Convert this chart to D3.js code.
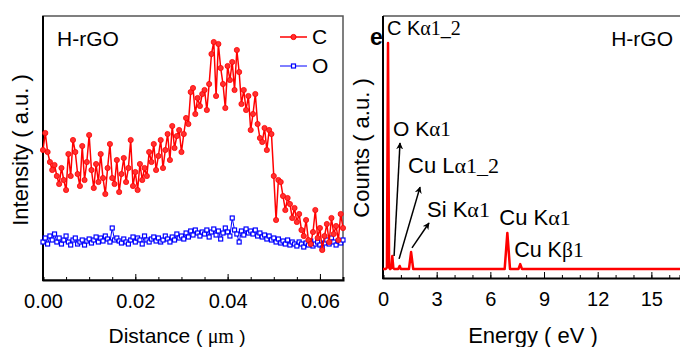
<!DOCTYPE html>
<html>
<head>
<meta charset="utf-8">
<script src="https://cdn.jsdelivr.net/npm/d3@7"></script>
<style>
  body { margin: 0; background: #fff; }
  svg { font-family: "Liberation Sans", Arial, sans-serif; }
  .serif { font-family: "Liberation Serif", "Times New Roman", serif; }
</style>
</head>
<body>
<div id="chart"></div>
<script>
// ---- left panel: line scan ----
const scanStep = 0.0005; // um, sampling step of the line scan
const carbon = [
  130, 147, 128, 118, 110, 115, 104, 96, 112, 100,
  90, 126, 104, 140, 128, 106, 94, 134, 100, 118,
  145, 110, 92, 116, 98, 126, 102, 86, 112, 136,
  102, 96, 120, 88, 106, 122, 98, 112, 140, 94,
  108, 90, 116, 100, 112, 104, 128, 118, 136, 110,
  124, 140, 112, 130, 146, 120, 154, 132, 144, 150,
  128, 146, 162, 156, 188, 192, 166, 182, 174, 186,
  190, 170, 196, 226, 238, 184, 236, 212, 196, 172,
  214, 200, 218, 190, 230, 208, 176, 190, 170, 184,
  150, 166, 186, 156, 142, 138, 152, 130, 150, 146,
  104, 60, 100, 98, 84, 70, 82, 76, 62, 72,
  58, 66, 50, 44, 60, 40, 36, 48, 70, 42,
  52, 30, 44, 56, 38, 62, 46, 54, 40, 66, 52
];
const oxygen = [
  38, 42, 36, 44, 40, 46, 38, 42, 36, 40,
  44, 38, 35, 40, 42, 36, 38, 40, 35, 39,
  41, 37, 40, 43, 38, 42, 39, 44, 41, 38,
  52, 40, 42, 39, 37, 41, 38, 36, 40, 43,
  38, 42, 40, 36, 44, 40, 38, 41, 43, 39,
  42, 38, 40, 44, 41, 38, 43, 40, 46, 42,
  44, 41, 47, 43, 49, 45, 50, 47, 44, 48,
  46, 50, 43, 48, 51, 45, 49, 41, 47, 52,
  48, 44, 62, 50, 46, 38, 49, 45, 51, 47,
  49, 46, 50, 44, 47, 43, 45, 41, 44, 40,
  42, 38, 41, 37, 39, 36, 40, 35, 38, 36,
  34, 38, 36, 33, 37, 35, 39, 34, 36, 38,
  35, 32, 37, 40, 36, 42, 38, 35, 39, 37, 40
];
const distTicks = [0, 0.02, 0.04, 0.06];

// ---- right panel: EDS spectrum ----
const energy = [0, 0.15, 0.22, 0.28, 0.34, 0.40, 0.46, 0.52, 0.58, 0.64, 0.85, 0.93, 1.0,
  1.45, 1.57, 1.69, 6.8, 6.95, 7.1, 7.57, 7.67, 7.77, 16.6];
const counts = [3.4, 3.4, 4, 89.7, 4, 3.4, 3.8, 8.4, 3.8, 3.4, 3.4, 4.6, 3.4,
  3.4, 9.9, 3.4, 3.4, 17.2, 3.4, 3.4, 5.3, 3.4, 3.4];
const energyTicks = [0, 3, 6, 9, 12, 15];
const peakLabels = [
  { pre: 'C K', sym: 'α1_2', e: 0.22, c: 92.7, size: 20 },
  { pre: 'O K', sym: 'α1', e: 0.56, c: 54.2, size: 21 },
  { pre: 'Cu L', sym: 'α1_2', e: 1.4, c: 40, size: 22 },
  { pre: 'Si K', sym: 'α1', e: 2.46, c: 23.3, size: 22 },
  { pre: 'Cu K', sym: 'α1', e: 6.5, c: 20.2, size: 22 },
  { pre: 'Cu K', sym: 'β1', e: 7.33, c: 8, size: 21.5 }
];
const arrows = [
  { e0: 0.62, c0: 8.4, e1: 0.95, c1: 51.5 },
  { e0: 0.9, c0: 7.3, e1: 2.07, c1: 34.7 },
  { e0: 1.62, c0: 11.5, e1: 2.57, c1: 21 }
];

const W = 680, H = 347;
const svg = d3.select('#chart').append('svg').attr('width', W).attr('height', H);

svg.append('defs').append('marker')
  .attr('id', 'head').attr('viewBox', '0 0 10 10')
  .attr('refX', 9).attr('refY', 5)
  .attr('markerWidth', 7).attr('markerHeight', 7)
  .attr('markerUnits', 'userSpaceOnUse')
  .attr('orient', 'auto')
  .append('path').attr('d', 'M0,0L10,5L0,10L3,5Z').attr('fill', '#000');

// ================= left panel =================
const L = { left: 43, right: 343, top: 16, bottom: 280 };
const xL = d3.scaleLinear().domain([0, 0.065]).range([L.left, L.right]);
const yL = d3.scaleLinear().domain([0, 264]).range([L.bottom, L.top]);

svg.append('rect')
  .attr('x', L.left).attr('y', L.top)
  .attr('width', L.right - L.left).attr('height', L.bottom - L.top)
  .attr('fill', 'none').attr('stroke', '#555').attr('stroke-width', 1.5);

svg.append('g').attr('transform', `translate(0,${L.bottom})`)
  .call(d3.axisBottom(xL).tickValues(d3.range(0, 0.0651, 0.005)).tickSize(-3).tickFormat(''))
  .call(g => g.select('.domain').attr('stroke-width', 2));
svg.append('g').attr('transform', `translate(0,${L.bottom})`)
  .call(d3.axisBottom(xL).tickValues(distTicks).tickSize(-6).tickFormat(d3.format('.2f')).tickPadding(14))
  .call(g => g.select('.domain').remove())
  .call(g => g.selectAll('text').attr('font-size', 20).attr('font-family', 'Liberation Sans').attr('fill', '#000'));

svg.append('line')
  .attr('x1', L.left).attr('x2', L.left).attr('y1', L.top).attr('y2', L.bottom + 1)
  .attr('stroke', '#000').attr('stroke-width', 2);

const lineL = d3.line().x((d, i) => xL(i * scanStep)).y(d => yL(d));

svg.append('path').datum(oxygen)
  .attr('d', lineL).attr('fill', 'none').attr('stroke', '#0000ff').attr('stroke-width', 1);
svg.append('g').selectAll('rect').data(oxygen).enter().append('rect')
  .attr('x', (d, i) => xL(i * scanStep) - 2).attr('y', d => yL(d) - 2)
  .attr('width', 4).attr('height', 4)
  .attr('fill', '#fff').attr('stroke', '#0000ff').attr('stroke-width', 1.2);

svg.append('path').datum(carbon)
  .attr('d', lineL).attr('fill', 'none').attr('stroke', '#ff0000').attr('stroke-width', 1.5);
svg.append('g').selectAll('circle').data(carbon).enter().append('circle')
  .attr('cx', (d, i) => xL(i * scanStep)).attr('cy', d => yL(d)).attr('r', 2.6)
  .attr('fill', '#ff3030').attr('stroke', '#ff0000').attr('stroke-width', 0.8);

// legend
svg.append('line').attr('x1', 280).attr('x2', 307).attr('y1', 37).attr('y2', 37)
  .attr('stroke', '#ff0000').attr('stroke-width', 1.5);
svg.append('circle').attr('cx', 293.5).attr('cy', 37).attr('r', 2.6)
  .attr('fill', '#ff3030').attr('stroke', '#ff0000');
svg.append('text').attr('x', 312).attr('y', 44).attr('font-size', 21).text('C');
svg.append('line').attr('x1', 280).attr('x2', 307).attr('y1', 66).attr('y2', 66)
  .attr('stroke', '#0000ff').attr('stroke-width', 1);
svg.append('rect').attr('x', 291.5).attr('y', 64).attr('width', 4).attr('height', 4)
  .attr('fill', '#fff').attr('stroke', '#0000ff').attr('stroke-width', 1.2);
svg.append('text').attr('x', 312).attr('y', 73).attr('font-size', 21).text('O');

svg.append('text').attr('x', 57).attr('y', 46).attr('font-size', 21).text('H-rGO');

svg.append('text').attr('x', 177).attr('y', 343).attr('text-anchor', 'middle').attr('font-size', 21)
  .call(t => {
    t.append('tspan').text('Distance ');
    t.append('tspan').attr('font-size', 19).text('( ');
    t.append('tspan').attr('class', 'serif').attr('font-size', 20).text('μm');
    t.append('tspan').attr('font-size', 19).text(' )');
  });
svg.append('text').attr('transform', 'translate(28,150) rotate(-90)')
  .attr('text-anchor', 'middle').attr('font-size', 22)
  .text('Intensity ( a.u. )');

// ================= right panel =================
const R = { left: 383, right: 680, top: 16, bottom: 278 };
const xR = d3.scaleLinear().domain([0, 16.6]).range([R.left, R.right]);
const yR = d3.scaleLinear().domain([0, 100]).range([R.bottom, R.top]);

svg.append('line').attr('x1', R.left).attr('x2', R.right).attr('y1', R.top).attr('y2', R.top)
  .attr('stroke', '#555').attr('stroke-width', 1.5);

svg.append('g').attr('transform', `translate(0,${R.bottom})`)
  .call(d3.axisBottom(xR).tickValues(d3.range(0, 16.6, 1)).tickSize(-3).tickFormat(''))
  .call(g => g.select('.domain').attr('stroke-width', 2));
svg.append('g').attr('transform', `translate(0,${R.bottom})`)
  .call(d3.axisBottom(xR).tickValues(energyTicks).tickSize(-6).tickPadding(14))
  .call(g => g.select('.domain').remove())
  .call(g => g.selectAll('text').attr('font-size', 20).attr('font-family', 'Liberation Sans').attr('fill', '#000'));
svg.append('line')
  .attr('x1', R.left).attr('x2', R.left).attr('y1', R.top).attr('y2', R.bottom + 1)
  .attr('stroke', '#000').attr('stroke-width', 2);

const lineR = d3.line().x((d, i) => xR(energy[i])).y(d => yR(d));
svg.append('path').datum(counts)
  .attr('d', lineR).attr('fill', 'none').attr('stroke', '#ff0000').attr('stroke-width', 2.5)
  .attr('stroke-linejoin', 'round');

svg.append('g').selectAll('line').data(arrows).enter().append('line')
  .attr('x1', d => xR(d.e0)).attr('y1', d => yR(d.c0))
  .attr('x2', d => xR(d.e1)).attr('y2', d => yR(d.c1))
  .attr('stroke', '#000').attr('stroke-width', 1.5).attr('marker-end', 'url(#head)');

svg.append('g').selectAll('text').data(peakLabels).enter().append('text')
  .attr('x', d => xR(d.e)).attr('y', d => yR(d.c)).attr('font-size', d => d.size)
  .each(function (d) {
    const t = d3.select(this);
    t.append('tspan').text(d.pre);
    t.append('tspan').attr('class', 'serif').text(d.sym);
  });

svg.append('text').attr('x', 370).attr('y', 45).attr('font-size', 23).attr('font-weight', 'bold').text('e');
svg.append('text').attr('x', 673).attr('y', 46).attr('text-anchor', 'end').attr('font-size', 21).text('H-rGO');

svg.append('text').attr('x', 533).attr('y', 343).attr('text-anchor', 'middle').attr('font-size', 22)
  .text('Energy ( eV )');
svg.append('text').attr('transform', 'translate(369,148) rotate(-90)')
  .attr('text-anchor', 'middle').attr('font-size', 22)
  .text('Counts ( a.u. )');
</script>
</body>
</html>
